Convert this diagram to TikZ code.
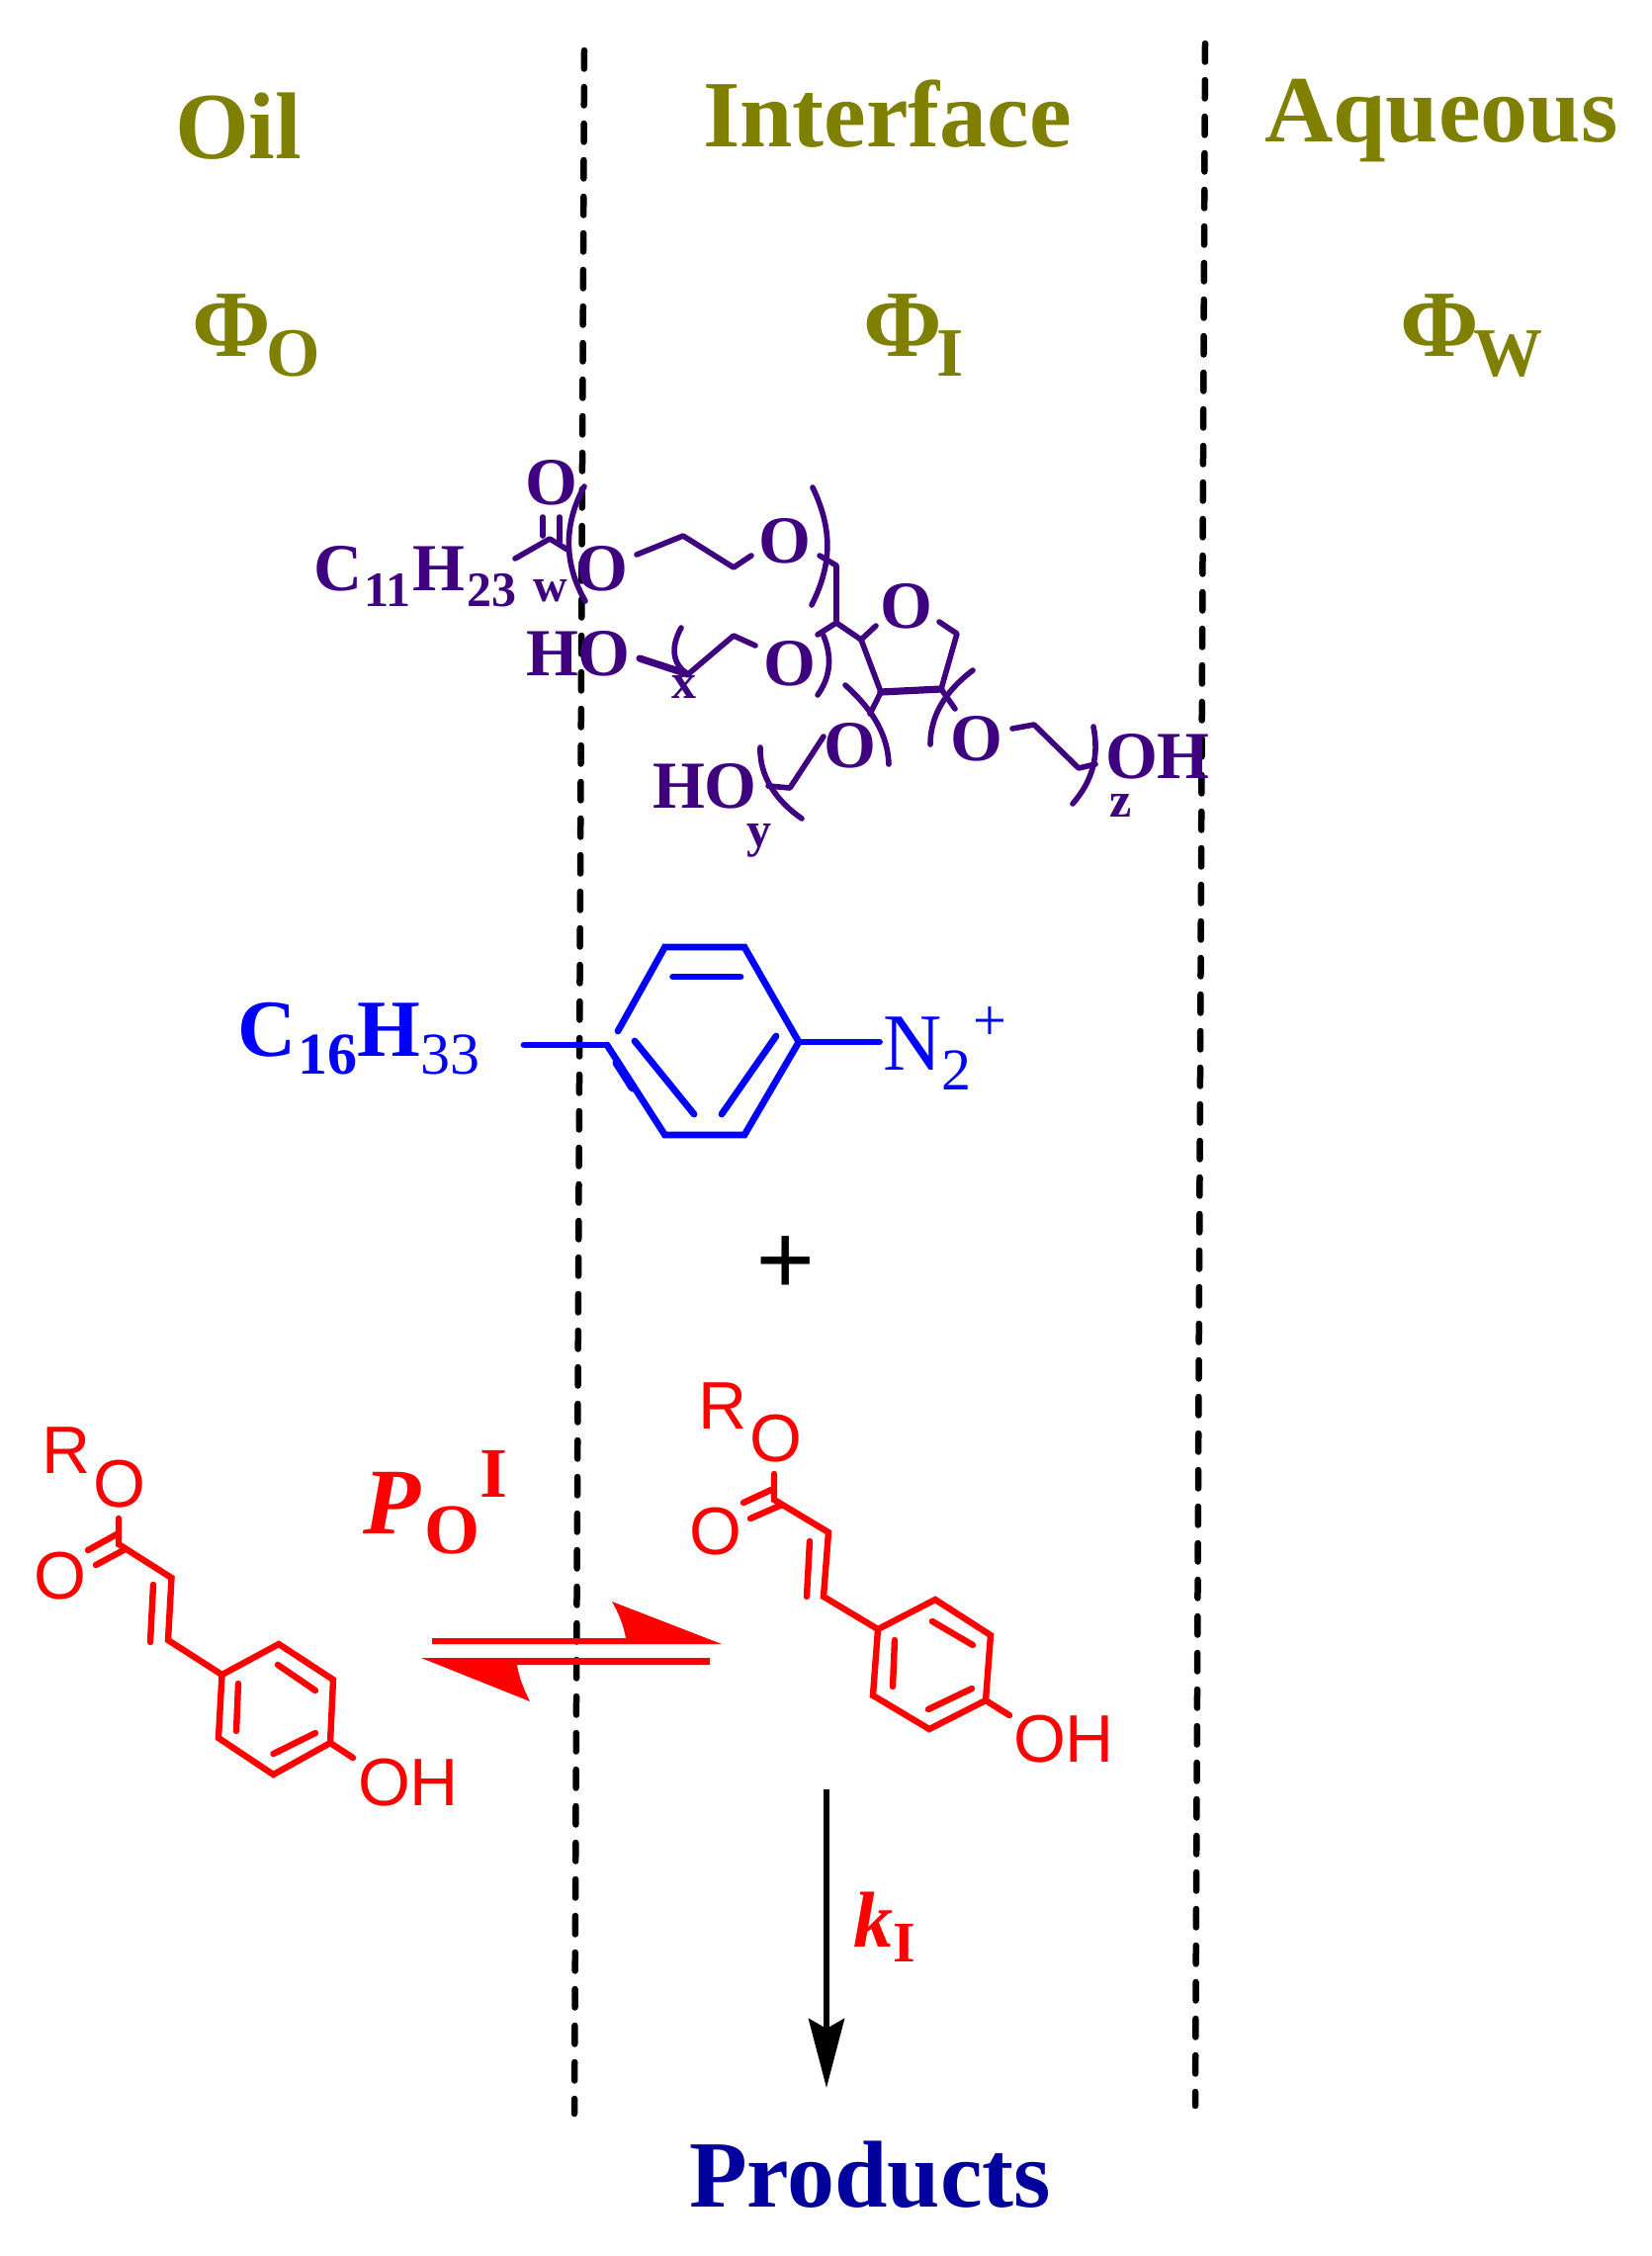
\documentclass[tikz,border=0pt]{standalone}
\usepackage{fontspec}
\setmainfont{Liberation Serif}
\newfontfamily\lsans{Liberation Sans}
\usetikzlibrary{arrows.meta}
\definecolor{olivetxt}{HTML}{808000}
\definecolor{violetmol}{HTML}{3F0080}
\definecolor{navyprod}{HTML}{00009C}
\newcommand{\fs}[1]{\fontsize{#1}{#1}\selectfont}
\newcommand{\shft}[3]{\raisebox{#1}{\fs{#2}#3}}
\tikzset{
  lbl/.style={anchor=base west,inner sep=0pt,outer sep=0pt},
  head/.style={lbl,text=olivetxt,font=\bfseries\fs{48}},
  vt/.style={lbl,text=violetmol,font=\bfseries\fs{34}},
  vs/.style={lbl,text=violetmol,font=\bfseries\fs{25}},
  rt/.style={lbl,text=red,font=\lsans\fs{34}},
  divider/.style={line width=3.25pt,line cap=round,dash pattern=on 9.25pt off 9.25pt,black},
  vb/.style={draw=violetmol,line width=2.8pt,line cap=round,line join=round},
  bb/.style={draw=blue,line width=3.4pt,line cap=round,line join=miter},
  rb/.style={draw=red,line width=3.2pt,line cap=round,line join=miter},
}
\begin{document}
\begin{tikzpicture}[x=0.5pt,y=-0.5pt]
\useasboundingbox (0,0) rectangle (1671,2282);
% dividers
\coordinate (d1a) at (591,51); \coordinate (d1b) at (581,2138);
\coordinate (d2a) at (1219,44); \coordinate (d2b) at (1209,2130);
\draw[divider] (d1a) -- (d1b);
\draw[divider] (d2a) -- (d2b);
% headings
\node[head] (oil) at (177,160) {Oil};
\node[head] (iface) at (711,148) {Interface};
\node[head] (aq) at (1279,143) {Aqueous};
\node[head] (phio) at (194,360) {Φ\kern-2pt\shft{-10pt}{35}{O}};
\node[head] (phii) at (873,360) {Φ\kern-2.5pt\shft{-10pt}{35}{I}};
\node[head] (phiw) at (1416,360) {Φ\kern-2.5pt\shft{-10pt}{35}{W}};
% surfactant text
\node[vt] (o1) at (531,510) {O};
\node[vt] (chain) at (317,597) {C\kern1pt\shft{-8pt}{25}{11}\kern1pt H\kern1pt\shft{-8pt}{25}{23}};
\node[vs] (w) at (539,608) {\fs{24}w};
\node[vt] (o2) at (582,597) {O};
\node[vt] (o3) at (767,569) {O};
\node[vt] (oring) at (890,635) {O};
\node[vt] (ho1) at (532,683) {HO};
\node[vs] (x) at (679,706) {x};
\node[vt] (o4) at (772,693) {O};
\node[vt] (o5) at (833,776) {O};
\node[vt] (ho2) at (660,817) {HO};
\node[vs] (y) at (755,856) {y};
\node[vt] (o6) at (961,769) {O};
\node[vt] (oh1) at (1118,787) {OH};
\node[vs] (z) at (1122,826) {z};
% surfactant bonds
\draw[vb] (521,565) -- (556,545) -- (574,556);
\draw[vb] (549,523) -- (549,542);
\draw[vb] (566,523) -- (566,548);
\draw[vb] (644,561) -- (691,542) -- (742,574) -- (760,562);
\draw[vb] (591,492) .. controls (570,530) and (570,570) .. (592,608);
\draw[vb] (822,493) .. controls (842,535) and (842,570) .. (821,612);
\draw[vb] (829,562) -- (846,572) -- (846,630) -- (871,647) -- (886,633);
\draw[vb] (846,630) -- (827,642);
\draw[vb] (950,629) -- (968,641) -- (952,697);
\draw[vb,line width=3.6pt] (952,697) -- (891,700);
\draw[vb] (891,700) -- (871,647);
\draw[vb,line width=3.6pt] (647,666) -- (696,682);
\draw[vb] (696,682) -- (742,643) -- (764,653);
\draw[vb] (689,635) .. controls (678,655) and (680,672) .. (696,682);
\draw[vb] (833,643) .. controls (842,665) and (840,685) .. (827,703);
\draw[vb] (855,693) .. controls (885,720) and (898,745) .. (899,773);
\draw[vb] (891,700) -- (880,722);
\draw[vb] (833,745) -- (799,797) -- (777,795);
\draw[vb] (769,756) .. controls (768,785) and (785,810) .. (811,828);
\draw[vb] (952,697) -- (966,717);
\draw[vb] (984,678) .. controls (955,700) and (941,725) .. (941,753);
\draw[vb] (1024,737) -- (1046,733) -- (1091,777) -- (1108,773);
\draw[vb] (1106,735) .. controls (1112,765) and (1105,790) .. (1085,813);
% diazonium
\node[lbl,text=blue,font=\fs{41}] (c16) at (240,1068) {\textbf{C\kern1pt\shft{-9pt}{30}{16}H}\shft{-9pt}{30}{33}};
\node[lbl,text=blue,font=\fs{41}] (n2) at (893,1082) {N\shft{-10pt}{30}{2}\kern1pt\shft{15pt}{30}{+}};
\draw[bb] (530,1057) -- (614,1057);
\draw[bb] (614,1057) -- (672.5,1148) -- (753,1148) -- (808,1054) -- (753,958) -- (672.5,958) -- (625,1043);
\draw[bb,line width=4.5pt] (624,1075) -- (640,1100);
\draw[bb] (680.6,988) -- (749,988);
\draw[bb] (642,1053) -- (702,1127);
\draw[bb] (785,1048) -- (730,1127);
\draw[bb] (808,1054) -- (889.5,1054);
% plus
\node[lbl,font=\bfseries\fs{53},text=black] (plus) at (764,1310) {+};
% left cinnamate
\node[rt] (rl) at (42,1490) {R};
\node[rt] (ol) at (94,1524) {O};
\node[rt] (oll) at (34,1617) {O};
\node[rt] (ohl) at (362,1826) {OH};
\draw[rb] (120,1536) -- (120,1562) -- (173.5,1596) -- (170,1659) -- (224.5,1694) -- (282,1663) -- (337,1699) -- (334,1763) -- (276.5,1795) -- (221,1758) -- (224.5,1694);
\draw[rb] (89,1568) -- (118,1552);
\draw[rb] (97,1583) -- (125,1568);
\draw[rb] (155,1603) -- (152,1661);
\draw[rb] (281,1684) -- (319,1710);
\draw[rb] (241,1703) -- (239,1751);
\draw[rb] (319,1753) -- (276.5,1774);
\draw[rb] (334,1763) -- (357,1778);
% right cinnamate
\node[rt] (rr) at (706,1445) {R};
\node[rt] (or) at (758,1478) {O};
\node[rt] (orl) at (697,1572) {O};
\node[rt] (ohr) at (1025,1782) {OH};
\draw[rb] (783,1491) -- (783,1517) -- (838,1550) -- (833,1615) -- (888,1648) -- (946,1618) -- (1002,1654) -- (997,1720) -- (940,1749) -- (883,1715) -- (888,1648);
\draw[rb] (752,1520) -- (780,1507);
\draw[rb] (759,1536) -- (790,1522.5);
\draw[rb] (819,1559) -- (816,1615);
\draw[rb] (943,1640) -- (984,1664);
\draw[rb] (905,1659) -- (903,1706);
\draw[rb] (983,1708) -- (939,1729);
\draw[rb] (997,1720) -- (1021,1735);
% partition label
\node[lbl,text=red,font=\bfseries\fs{47.5}] (poi) at (367,1551) {\textit{P}\kern2pt\shft{-10pt}{36}{O}\shft{18.5pt}{36}{I}};
% equilibrium harpoons
\fill[red] (437,1657) -- (633,1657) .. controls (631,1645) and (626,1632) .. (619,1620) -- (730,1663) -- (437,1663) -- cycle;
\fill[red] (718,1684) -- (523,1684) .. controls (525,1697) and (530,1709) .. (536,1721) -- (426,1677) -- (718,1677) -- cycle;
% reaction arrow
\coordinate (ka) at (836,1810); \coordinate (kb) at (836,2112);
\draw[line width=3.2pt,-{Stealth[length=35pt,width=18pt,inset=5pt]}] (ka) -- (kb);
\node[lbl,text=red,font=\bfseries\fs{40}] (kI) at (863,1969) {\textit{k}\shft{-7.5pt}{29}{I}};
\node[lbl,text=navyprod,font=\bfseries\fs{48}] (prod) at (697,2232) {Products};
\end{tikzpicture}
\end{document}
